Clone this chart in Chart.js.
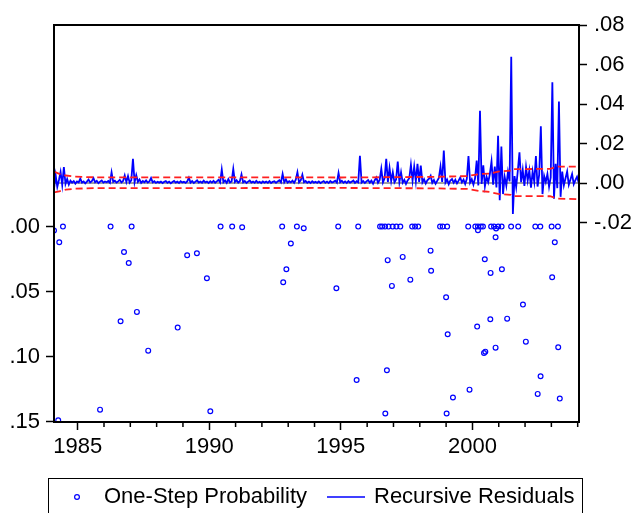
<!DOCTYPE html>
<html>
<head>
<meta charset="utf-8">
<title>Recursive Residuals</title>
<script src="https://cdn.jsdelivr.net/npm/chart.js"></script>
<style>
  html, body { margin: 0; padding: 0; background: #fff; }
</style>
</head>
<body>
<canvas id="chart" width="632" height="513"></canvas>
<script>
// recursive residuals, 16 obs per year starting 1984.10 (values in thousandths)
const resStart = 1984.1;
const resStep = 1 / 16;
const resValues = [
  -3, 4, -2, 1.5, 5.6, -1, 8.1, -0.5, 2, -0.8, 1.2, 0.2, 1, -0.3, 0.8, 0.3,
  2.2, 0.2, 0.8, -0.2, 0.7, 1.7, 0.3, 0.9, 2.5, 0.4, 1.1, -0.1, 0.7, 1.3, 0.2, 0.8,
  0.4, 1.0, 0.1, 5.4, 0.6, 1.2, 0.2, 0.8, 1.6, 0.3, 1.0, 3.8, 0.5, 3.5, 0.2, 1.4,
  12.2, 0.4, 4.0, 0.6, 1.8, 0.1, 1.0, 0.4, 1.3, 0.2, 0.8, 2.5, 0.3, 0.9, 0.1, 0.6,
  0.2, 0.7, 0.0, 0.6, 1.0, 0.1, 0.7, -0.1, 0.5, 1.1, 0.2, 0.7, 0.0, 0.9, 0.3, 0.6,
  0.1, 0.8, 2.7, 0.2, 1.0, 0.0, 0.7, 1.4, 0.2, 0.7, 0.1, 1.2, 0.3, 0.7, 0.0, 0.9,
  0.2, 1.1, 0.1, 0.8, 1.6, 0.3, 6.8, 0.4, 1.3, 0.1, 2.0, 0.3, 0.8, 7.1, 0.5, 1.4,
  0.2, 0.9, 4.4, 0.3, 1.0, 0.0, 0.7, 1.3, 0.2, 0.7, 0.1, 1.1, 0.2, 0.6, 0.0, 0.8,
  0.2, 0.7, 0.1, 1.0, 0.0, 0.6, 0.9, 0.1, 0.8, 1.4, 0.3, 4.6, 0.4, 1.8, 0.2, 0.9,
  0.3, 1.2, 0.1, 1.7, 5.4, 0.3, 1.3, 4.2, 0.4, 1.0, 0.1, 0.7, 0.0, 0.9, 0.2, 0.6,
  0.1, 0.8, 0.0, 0.5, 1.0, 0.1, 0.7, 0.0, 1.0, 0.3, 0.6, 1.2, 0.2, 5.1, 0.4, 1.1,
  0.1, 0.8, 0.0, 1.0, 0.2, 0.7, 1.3, 0.1, 0.9, 0.3, 13.8, 0.2, 1.0, 0.0, 0.8, 1.5,
  0.2, 1.2, -0.4, 1.4, 2.8, 0.1, 1.6, 7.2, 0.3, 2.4, 12.2, 0.5, 7.6, 0.9, 5.4, 0.3,
  1.8, 10.9, 0.4, 5.4, 0.2, 1.6, -0.5, 1.3, 2.4, 9.2, 1.2, 8.3, 0.9, 9.7, 0.6, 8.8,
  0.3, 1.9, -0.3, 1.4, 2.2, 3.7, 0.1, 1.5, -0.4, 1.1, 2.6, 8.3, 0.5, 16.4, 0.2, 1.8,
  -0.6, 1.3, 2.0, 0.1, 1.6, -0.2, 1.2, 2.8, 0.3, 1.7, -0.5, 2.1, 13.7, 0.2, 1.9, -0.8,
  2.4, 11.4, -1.2, 36.6, -0.5, 9.0, -1.6, 3.2, 0.4, 4.5, 10.9, -0.8, 8.3, -2.2, 23.9, -8.7,
  18.5, -5.6, 3.1, -1.4, 5.6, 0.8, 63.9, -15.7, 3.5, -2.0, 6.2, 15.5, 0.4, 6.6, -1.5, 8.0,
  1.2, 6.4, -2.4, 5.8, 0.6, 13.7, -1.8, 4.2, 28.7, -5.6, 3.6, 0.5, 4.6, -1.9, 2.8, 51.0,
  -8.0, 9.7, -2.6, 41.3, -7.0, 5.8, -1.2, 2.4, 5.8, -0.9, 1.8, 4.6, -0.6, 1.5, 3.2, 0.2
];

// +/- 2 S.E. bands (thousandths)
const bandYears = [1984.10, 1984.30, 1984.55, 1984.90, 1985.60, 1995.00, 1998.50, 1999.80,
  2000.25, 2000.65, 2000.98, 2001.46, 2001.50, 2002.95, 2003.25, 2004.05];
const upperBand = [5.8, 4.6, 3.8, 3.2, 2.9, 2.8, 3.1, 3.5, 4.5, 4.8, 5.8, 6.3, 7.0, 7.2, 8.3, 8.3];
const lowerBand = [-4.8, -4.2, -3.4, -2.9, -2.6, -2.5, -2.7, -3.0, -4.0, -4.5, -5.5, -6.0, -6.6, -6.7, -7.9, -8.2];

// one-step probabilities below .15
const probYears = [
  1984.10, 1984.30, 1984.44, 1984.26, 1985.85, 1986.25, 1986.63, 1986.76, 1986.94, 1987.05,
  1987.25, 1987.68, 1988.80, 1989.16, 1989.53, 1989.91, 1990.04, 1990.43, 1990.87, 1991.25,
  1992.77, 1992.81, 1992.93, 1993.10, 1993.33, 1993.59, 1994.83, 1994.90, 1995.60, 1995.66,
  1996.49, 1996.57, 1996.68, 1996.69, 1996.75, 1996.78, 1996.81, 1996.94, 1996.97, 1997.11,
  1997.26, 1997.35, 1997.64, 1997.71, 1997.82, 1997.94, 1998.41, 1998.43, 1998.77, 1998.87,
  1999.00, 1999.02, 1999.04, 1999.06, 1999.26, 1999.84, 1999.89, 2000.11, 2000.18, 2000.21,
  2000.21, 2000.32, 2000.40, 2000.44, 2000.47, 2000.49, 2000.68, 2000.69, 2000.71, 2000.82,
  2000.88, 2000.88, 2000.90, 2000.98, 2001.11, 2001.12, 2001.32, 2001.47, 2001.74, 2001.92,
  2002.03, 2002.39, 2002.48, 2002.58, 2002.59, 2003.01, 2003.03, 2003.13, 2003.25, 2003.26,
  2003.32
];
const probValues = [
  0.003, 0.012, 0.000, 0.149, 0.1408, 0.000, 0.0728, 0.0195, 0.028, 0.000,
  0.0656, 0.0954, 0.0777, 0.022, 0.0205, 0.0397, 0.142, 0.000, 0.000, 0.0005,
  0.000, 0.0428, 0.0328, 0.013, 0.000, 0.0013, 0.0474, 0.000, 0.118, 0.000,
  0.000, 0.000, 0.000, 0.1438, 0.1105, 0.0258, 0.000, 0.0456, 0.000, 0.000,
  0.000, 0.0233, 0.0408, 0.000, 0.000, 0.000, 0.0185, 0.034, 0.000, 0.000,
  0.0543, 0.1438, 0.000, 0.0828, 0.1315, 0.000, 0.1254, 0.000, 0.0769, 0.000,
  0.0028, 0.000, 0.000, 0.0972, 0.0251, 0.0962, 0.0712, 0.0356, 0.000, 0.000,
  0.0082, 0.0931, 0.0015, 0.000, 0.000, 0.0328, 0.0708, 0.000, 0.000, 0.060,
  0.0885, 0.000, 0.1287, 0.000, 0.1151, 0.000, 0.0389, 0.012, 0.000, 0.0928,
  0.1323
];

const yearTicks = [1985, 1986, 1987, 1988, 1989, 1990, 1991, 1992, 1993, 1994,
  1995, 1996, 1997, 1998, 1999, 2000, 2001, 2002, 2003, 2004];
const probTicks = [0, 0.05, 0.10, 0.15];
const residTicks = [-0.02, 0, 0.02, 0.04, 0.06, 0.08];

const FONT = { family: "'Liberation Sans', Arial, sans-serif", size: 22 };
const BLUE = '#0000ff';
const RED = '#ff2020';

const fmt = v => v.toFixed(2).replace('0.', '.');

const residData = resValues.map((v, i) => ({ x: resStart + i * resStep, y: v / 1000 }));
const upperData = bandYears.map((x, i) => ({ x, y: upperBand[i] / 1000 }));
const lowerData = bandYears.map((x, i) => ({ x, y: lowerBand[i] / 1000 }));
const probData = probYears.map((x, i) => ({ x, y: probValues[i] }));

// frame, zero line, minor year ticks and the boxed legend
const framePlugin = {
  id: 'frame',
  beforeDatasetsDraw(chart) {
    const { ctx, chartArea: a, scales } = chart;
    const y0 = scales.yR.getPixelForValue(0);
    ctx.save();
    ctx.strokeStyle = '#444';
    ctx.lineWidth = 1;
    ctx.beginPath();
    ctx.moveTo(a.left, y0);
    ctx.lineTo(a.right, y0);
    ctx.stroke();
    ctx.restore();
  },
  afterDraw(chart) {
    const { ctx, chartArea: a, scales } = chart;
    ctx.save();
    ctx.strokeStyle = '#000';
    ctx.lineWidth = 2;
    ctx.strokeRect(a.left, a.top, a.right - a.left, a.bottom - a.top);

    ctx.lineWidth = 1.5;
    yearTicks.filter(y => y % 5 !== 0).forEach(y => {
      const x = scales.x.getPixelForValue(y);
      ctx.beginPath();
      ctx.moveTo(x, a.bottom);
      ctx.lineTo(x, a.bottom + 5);
      ctx.stroke();
    });

    // legend
    const ly = 497;
    ctx.lineWidth = 1;
    ctx.strokeRect(48.5, 478.5, 534, 50);
    ctx.fillStyle = '#000';
    ctx.font = FONT.size + 'px ' + FONT.family;
    ctx.textBaseline = 'middle';
    ctx.textAlign = 'left';

    ctx.strokeStyle = BLUE;
    ctx.lineWidth = 1.2;
    ctx.beginPath();
    ctx.arc(77, ly, 2.4, 0, Math.PI * 2);
    ctx.stroke();
    ctx.fillText(chart.data.datasets[0].label, 104, ly);

    ctx.lineWidth = 1.5;
    ctx.beginPath();
    ctx.moveTo(327, ly);
    ctx.lineTo(365, ly);
    ctx.stroke();
    ctx.fillText(chart.data.datasets[1].label, 374, ly);
    ctx.restore();
  }
};

new Chart(document.getElementById('chart'), {
  type: 'line',
  data: {
    datasets: [
      {
        label: 'One-Step Probability',
        type: 'scatter',
        data: probData,
        yAxisID: 'yP',
        showLine: false,
        pointStyle: 'circle',
        pointRadius: 2.4,
        pointBorderWidth: 1.2,
        pointBackgroundColor: 'rgba(0,0,0,0)',
        pointBorderColor: BLUE,
        order: 3
      },
      {
        label: 'Recursive Residuals',
        data: residData,
        yAxisID: 'yR',
        borderColor: BLUE,
        borderWidth: 1.8,
        pointRadius: 0,
        tension: 0,
        order: 2
      },
      {
        label: '+2 S.E.',
        data: upperData,
        yAxisID: 'yR',
        borderColor: RED,
        borderWidth: 1.8,
        borderDash: [7, 4],
        pointRadius: 0,
        order: 1
      },
      {
        label: '-2 S.E.',
        data: lowerData,
        yAxisID: 'yR',
        borderColor: RED,
        borderWidth: 1.8,
        borderDash: [7, 4],
        pointRadius: 0,
        order: 1
      }
    ]
  },
  options: {
    responsive: false,
    animation: false,
    layout: { padding: { top: 25, left: 0, right: 0, bottom: 0 } },
    plugins: { legend: { display: false }, tooltip: { enabled: false } },
    scales: {
      x: {
        type: 'linear',
        position: 'bottom',
        min: 1984.1,
        max: 2004.05,
        afterBuildTicks: s => { s.ticks = yearTicks.map(v => ({ value: v })); },
        afterFit: s => { s.height = 91; },
        ticks: {
          autoSkip: false,
          maxRotation: 0,
          padding: 4,
          color: '#000',
          font: FONT,
          callback: v => (v % 5 === 0 ? String(v) : '')
        },
        grid: {
          drawOnChartArea: false,
          tickLength: 8,
          tickWidth: 1.5,
          tickColor: c => (c.tick && c.tick.value % 5 === 0 ? '#000' : 'rgba(0,0,0,0)')
        },
        border: { display: false }
      },
      yP: {
        type: 'linear',
        position: 'left',
        reverse: true,
        min: -0.1551,
        max: 0.1503,
        afterBuildTicks: s => { s.ticks = probTicks.map(v => ({ value: v })); },
        afterFit: s => { s.width = 54; },
        ticks: { padding: 6, color: '#000', font: FONT, callback: v => fmt(v) },
        grid: { drawOnChartArea: false, tickLength: 8, tickWidth: 1.5, tickColor: '#000' },
        border: { display: false }
      },
      yR: {
        type: 'linear',
        position: 'right',
        min: -0.121,
        max: 0.08,
        afterBuildTicks: s => { s.ticks = residTicks.map(v => ({ value: v })); },
        afterFit: s => { s.width = 53; },
        ticks: { padding: 7, color: '#000', font: FONT, callback: v => fmt(v) },
        grid: { drawOnChartArea: false, tickLength: 8, tickWidth: 1.5, tickColor: '#000' },
        border: { display: false }
      }
    }
  },
  plugins: [framePlugin]
});
</script>
</body>
</html>
